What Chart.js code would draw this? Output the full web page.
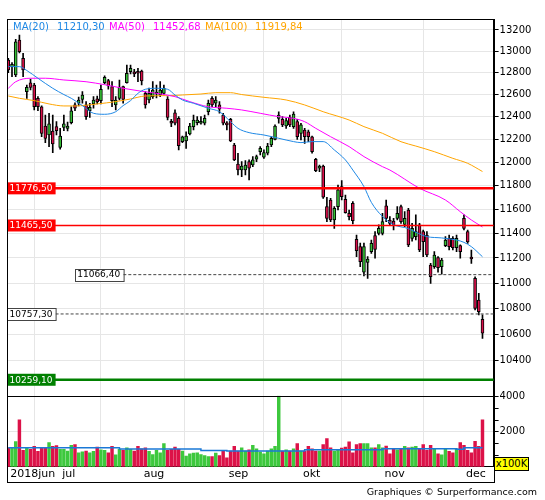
<!DOCTYPE html>
<html>
<head>
<meta charset="utf-8">
<script src="https://cdn.jsdelivr.net/npm/chart.js@4.4.1/dist/chart.umd.min.js"></script>
<style>
  body { margin: 0; background: #fff; }
  #wrap { position: relative; width: 545px; height: 500px; font-family: "DejaVu Sans", sans-serif; }
  #c { position: absolute; left: 0; top: 0; }
  .lg { position: absolute; top: 21px; font-size: 10px; line-height: 12px; white-space: nowrap; }
  #unit { position: absolute; left: 494px; top: 457px; width: 33px; height: 12px; background: #ff0; border: 1px solid #000;
          font-size: 10px; line-height: 12px; text-align: center; }
  #foot { position: absolute; right: 8px; top: 486px; font-size: 9.5px; line-height: 11px; white-space: nowrap; }
</style>
</head>
<body>
<div id="wrap">
  <canvas id="c" width="545" height="500"></canvas>
  <span class="lg" style="left:13px;color:#1e88e5">MA(20)</span>
  <span class="lg" style="left:57px;color:#1e88e5">11210,30</span>
  <span class="lg" style="left:109px;color:#ff00ff">MA(50)</span>
  <span class="lg" style="left:153px;color:#ff00ff">11452,68</span>
  <span class="lg" style="left:205px;color:#ffa500">MA(100)</span>
  <span class="lg" style="left:255px;color:#ffa500">11919,84</span>
  <div id="unit">x100K</div>
  <div id="foot">Graphiques © Surperformance.com</div>
</div>
<script>
// daily candles, 12 jun -> 10 dec 2018
const opens = [12918,12856,12779,13105,12934,12626,12708,12687,12566,12490,12318,12238,12273,12312,12130,12306,12297,12347,12506,12521,
  12557,12506,12454,12515,12562,12544,12708,12727,12672,12506,12566,12672,12708,12809,12809,12809,12816,12611,12551,12581,
  12605,12596,12611,12560,12356,12436,12386,12180,12185,12247,12312,12347,12342,12342,12446,12566,12521,12506,12416,12342,
  12377,12150,11985,11933,11933,12005,11976,12026,12092,12043,12078,12150,12200,12386,12377,12318,12395,12312,12356,12253,
  12282,12267,12223,12026,11948,11968,11622,11678,11511,11622,11791,11684,11567,11650,11352,11292,11086,11165,11251,11382,
  11401,11401,11630,11511,11503,11525,11622,11475,11594,11360,11374,11470,11415,11387,11144,11130,11203,11130,11300,11360,
  11360,11284,11300,11525,11415,11198,11037,10866,10716];
const highs = [12933,12893,13112,13152,12980,12687,12742,12703,12581,12497,12416,12431,12416,12356,12297,12416,12353,12490,12526,12578,
  12626,12536,12521,12581,12587,12687,12770,12739,12718,12581,12733,12678,12871,12871,12831,12841,12825,12626,12660,12718,
  12687,12718,12687,12581,12377,12461,12401,12229,12267,12342,12416,12401,12401,12416,12551,12581,12581,12536,12431,12356,
  12386,12165,12078,12005,12014,12020,12049,12063,12136,12107,12165,12223,12327,12445,12401,12386,12416,12445,12377,12342,
  12297,12282,12229,12034,11976,11976,11700,11692,11622,11805,11842,11720,11594,11664,11387,11322,11322,11211,11346,11415,
  11470,11567,11678,11539,11525,11622,11636,11580,11608,11483,11553,11483,11428,11415,11157,11251,11211,11198,11374,11387,
  11374,11387,11306,11553,11428,11265,11050,10919,10750];
const lows = [12800,12763,12763,12983,12763,12566,12641,12461,12454,12223,12170,12135,12083,12238,12113,12276,12273,12336,12454,12497,
  12521,12377,12395,12476,12515,12515,12696,12648,12490,12461,12551,12521,12703,12788,12763,12718,12687,12476,12524,12566,
  12569,12581,12596,12371,12312,12327,12107,12170,12121,12238,12282,12327,12335,12327,12416,12490,12490,12431,12327,12282,
  12179,12014,11890,11876,11890,11848,11962,12005,12063,12034,12063,12136,12194,12342,12312,12297,12312,12297,12200,12194,
  12165,12179,12078,11918,11918,11692,11497,11497,11442,11594,11678,11567,11511,11478,11211,11130,11056,11037,11238,11198,
  11387,11387,11497,11470,11428,11511,11483,11456,11292,11336,11346,11251,11211,11211,10997,11117,11086,11070,11292,11265,
  11265,11251,11198,11428,11319,11157,10788,10750,10570];
const closes = [12825,12878,13089,12995,12825,12666,12666,12490,12490,12253,12209,12336,12159,12276,12229,12336,12318,12454,12476,12551,
  12596,12401,12485,12551,12533,12648,12758,12678,12544,12551,12666,12557,12795,12841,12788,12795,12724,12506,12611,12641,
  12623,12641,12657,12395,12342,12342,12144,12223,12229,12318,12371,12371,12356,12386,12521,12506,12551,12467,12342,12327,
  12185,12020,11933,11968,11976,11948,12020,12049,12121,12083,12141,12209,12318,12416,12327,12365,12327,12425,12223,12327,
  12223,12223,12092,11927,11968,11701,11525,11511,11608,11763,11706,11572,11539,11505,11259,11170,11292,11192,11319,11270,
  11442,11497,11525,11483,11470,11567,11497,11525,11306,11442,11415,11265,11333,11224,11050,11224,11122,11184,11346,11292,
  11284,11360,11251,11442,11330,11192,10800,10776,10609];
// volume in units of 100K
const volumes = [1085,1085,1434,2675,930,1066,988,1163,872,1066,1066,1376,1163,1202,988,988,891,1221,1260,795,
  853,891,795,872,1124,969,930,795,1163,678,988,930,1085,988,891,1163,1027,1085,872,698,
  930,795,1318,930,988,1124,988,891,601,736,775,795,698,640,581,581,775,640,930,504,
  891,1163,891,1085,891,969,1221,1027,833,736,891,1027,1163,4050,891,969,891,1027,1318,891,
  891,1163,1027,891,891,1260,1609,1085,891,930,1066,1124,1415,795,1260,1318,1318,1318,1085,1085,
  1260,1085,1182,736,1027,969,1027,1163,1085,1124,1163,1027,1260,930,1221,1027,736,678,1027,872,
  795,1027,1376,1221,930,795,1453,1163,2675];

// moving averages: [day index, value]
const ma20 = [[0,12856],[3,12856],[5,12820],[8,12749],[12,12657],[15,12600],[17,12566],[20,12500],[23,12431],[26,12422],
  [29,12445],[31,12500],[33,12545],[35,12611],[37,12648],[40,12657],[43,12648],[45,12596],[47,12551],[50,12521],
  [54,12476],[57,12445],[60,12356],[62,12297],[65,12259],[69,12238],[73,12209],[77,12180],[79,12171],[82,12180],
  [85,12180],[88,12107],[91,12020],[93,11933],[96,11791],[98,11658],[101,11540],[104,11472],[108,11440],[110,11410],
  [113,11374],[117,11363],[121,11346],[123,11327],[125,11292],[128,11210]];
const ma50 = [[0,12657],[2,12717],[6,12749],[10,12749],[15,12733],[21,12717],[26,12690],[31,12657],[35,12635],[40,12611],
  [45,12581],[49,12536],[54,12490],[59,12476],[63,12461],[68,12431],[73,12401],[77,12386],[80,12356],[83,12297],
  [87,12223],[92,12136],[96,12049],[101,11962],[103,11933],[111,11777],[118,11678],[122,11580],[125,11511],[128,11453]];
const ma100 = [[0,12587],[3,12566],[7,12545],[11,12515],[15,12497],[18,12497],[24,12515],[29,12536],[33,12560],[37,12587],
  [43,12590],[47,12596],[52,12605],[56,12617],[60,12617],[63,12600],[69,12575],[75,12551],[80,12506],[85,12445],
  [92,12371],[96,12312],[101,12253],[106,12179],[110,12141],[115,12092],[120,12034],[124,11991],[128,11920]];
const volMa = [[0,1085],[30,1010],[52,930],[59,891],[80,969],[101,1027],[121,1000],[123,1085],[128,1085]];

// horizontal levels drawn on the price panel
const levelValues = [11776.50, 11465.50, 11066.40, 10757.30, 10259.10];

// axis ticks
const monthTicks = [0, 14, 36, 59, 79, 101, 123];
const monthNames = ['2018jun', 'jul', 'aug', 'sep', 'okt', 'nov', 'dec'];
const priceTicks = [10400,10600,10800,11000,11200,11400,11600,11800,12000,12200,12400,12600,12800,13000,13200];
const volTicks = [667, 1333, 2000, 2667, 3333, 4000];
const volLabels = [2000, 4000];

const GREEN = '#35be35', RED = '#d8104a';
const VGREEN = '#3dc83d', VRED = '#dc1248';
const idx = opens.map((_, i) => i);
const up = i => closes[i] >= opens[i];
const pts = arr => arr.map(([x, y]) => ({x, y}));
const font = {family: 'DejaVu Sans', size: 10};

// red / green boxes and dashed marks
const levelPlugin = {
  id: 'levels',
  afterDatasetsDraw(chart) {
    const {ctx, chartArea: a, scales: {y}} = chart;
    const styles = [
      {line: '#ff0000', w: 2.5, dash: [], fill: '#ff0000', txt: '#fff', bx: a.left},
      {line: '#ff0000', w: 1.5, dash: [], fill: '#ff0000', txt: '#fff', bx: a.left},
      {line: '#444', w: 1, dash: [3, 2], fill: '#fff', txt: '#000', bx: a.left + 67.7, border: '#444'},
      {line: '#444', w: 1, dash: [3, 2], fill: '#fff', txt: '#000', bx: a.left, border: '#444'},
      {line: '#008000', w: 2.5, dash: [], fill: '#008000', txt: '#fff', bx: a.left}
    ];
    ctx.save();
    levelValues.forEach((v, k) => {
      const s = styles[k];
      const py = y.getPixelForValue(v);
      const bw = 48.6, bh = 12;
      ctx.beginPath();
      ctx.setLineDash(s.dash);
      ctx.strokeStyle = s.line;
      ctx.lineWidth = s.w;
      ctx.moveTo(s.border ? s.bx + bw : a.left, py);
      ctx.lineTo(a.right, py);
      ctx.stroke();
      ctx.setLineDash([]);
      ctx.fillStyle = s.fill;
      ctx.fillRect(s.bx, py - bh / 2, bw, bh);
      if (s.border) {
        ctx.strokeStyle = s.border;
        ctx.lineWidth = 1;
        ctx.strokeRect(Math.round(s.bx) + 0.5, Math.round(py - bh / 2) + 0.5, bw, bh);
      }
      ctx.fillStyle = s.txt;
      ctx.font = '9px "DejaVu Sans"';
      ctx.textBaseline = 'middle';
      ctx.textAlign = 'left';
      ctx.fillText(v.toFixed(2).replace('.', ','), s.bx + 2.5, py + 0.5);
    });
    ctx.restore();
  },
  afterDraw(chart) {
    const {ctx, chartArea: a, scales: {yv}} = chart;
    ctx.save();
    ctx.strokeStyle = '#000';
    ctx.lineWidth = 1;
    ctx.strokeRect(Math.round(a.left) + 0.5, Math.round(a.top) + 0.5, Math.round(a.right - a.left), 482 - Math.round(a.top));
    ctx.beginPath();
    ctx.moveTo(a.left, Math.round(yv.top) + 0.5);
    ctx.lineTo(a.right, Math.round(yv.top) + 0.5);
    ctx.stroke();
    ctx.restore();
  }
};

new Chart(document.getElementById('c'), {
  type: 'bar',
  data: {
    datasets: [
      {type: 'line', data: pts(ma20), yAxisID: 'y', borderColor: '#1e88e5', borderWidth: 1, pointRadius: 0,
       cubicInterpolationMode: 'monotone', order: 0},
      {type: 'line', data: pts(ma50), yAxisID: 'y', borderColor: '#ff00ff', borderWidth: 1, pointRadius: 0,
       cubicInterpolationMode: 'monotone', order: 0},
      {type: 'line', data: pts(ma100), yAxisID: 'y', borderColor: '#ffa500', borderWidth: 1, pointRadius: 0,
       cubicInterpolationMode: 'monotone', order: 0},
      {type: 'line', data: pts(volMa), yAxisID: 'yv', borderColor: '#1a78d6', borderWidth: 1.5, pointRadius: 0,
       stepped: true, order: 0},
      {data: idx.map(i => ({x: i, y: [opens[i], closes[i]]})), yAxisID: 'y',
       backgroundColor: idx.map(i => up(i) ? GREEN : RED), borderColor: '#000', borderWidth: 1,
       borderSkipped: false, barThickness: 3, minBarLength: 2, grouped: false, order: 1},
      {data: idx.map(i => ({x: i, y: [lows[i], highs[i]]})), yAxisID: 'y',
       backgroundColor: '#000', barThickness: 1, grouped: false, order: 2},
      {data: idx.map(i => ({x: i, y: volumes[i]})), yAxisID: 'yv',
       backgroundColor: idx.map(i => up(i) ? VGREEN : VRED), barThickness: 2.8, grouped: false, order: 3}
    ]
  },
  options: {
    responsive: false,
    animation: false,
    layout: {padding: {left: 7, top: 19, right: 0, bottom: 18}},
    plugins: {legend: {display: false}, tooltip: {enabled: false}},
    scales: {
      x: {
        type: 'linear', min: -0.35, max: 131, offset: false,
        afterBuildTicks: s => { s.ticks = monthTicks.map(v => ({value: v})); },
        afterFit: s => { s.height = 15.3; },
        ticks: {callback: (v, i) => monthNames[i], align: 'start', labelOffset: 2, padding: 1,
                maxRotation: 0, autoSkip: false, color: '#000', font: {family: 'DejaVu Sans', size: 11}},
        grid: {color: c => c.index === 0 ? 'rgba(0,0,0,0)' : '#e6e6e6', drawTicks: false},
        border: {color: '#000'}
      },
      y: {
        type: 'logarithmic', position: 'right', stack: 'panes', stackWeight: 376.7,
        min: 10142, max: 13305,
        afterBuildTicks: s => { s.ticks = priceTicks.map(v => ({value: v})); },
        afterFit: s => { s.width = 51.4; },
        ticks: {callback: v => String(v), padding: 1, autoSkip: false, color: '#000', font},
        grid: {color: '#e6e6e6', tickColor: '#000', tickLength: 5},
        border: {color: '#000'}
      },
      yv: {
        type: 'linear', position: 'right', stack: 'panes', stackWeight: 71,
        min: 0, max: 4060,
        afterBuildTicks: s => { s.ticks = volTicks.map(v => ({value: v})); },
        afterFit: s => { s.width = 51.4; },
        ticks: {callback: v => volLabels.includes(v) ? String(v) : '', padding: 1, autoSkip: false, color: '#000', font},
        grid: {color: c => (c.tick && c.tick.value === 2000) ? '#e6e6e6' : 'rgba(0,0,0,0)', tickColor: '#000', tickLength: 5},
        border: {color: '#000'}
      }
    }
  },
  plugins: [levelPlugin]
});
</script>
</body>
</html>
